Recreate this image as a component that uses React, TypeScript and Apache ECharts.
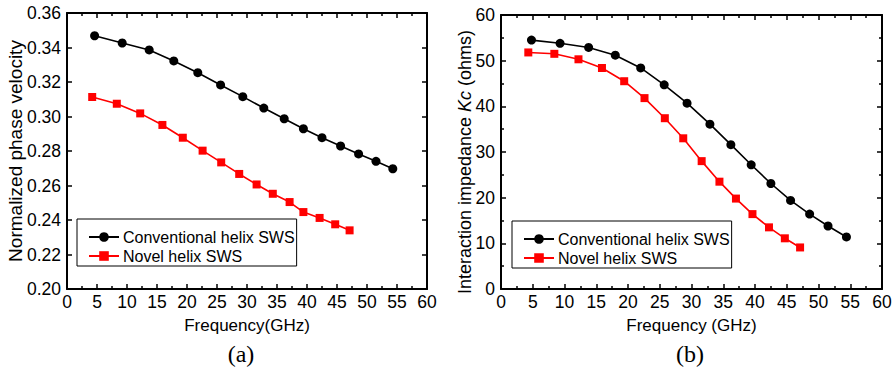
import React, { useEffect, useRef } from "react";
import * as echarts from "echarts";

const SERIES_NAMES = ["Conventional helix SWS", "Novel helix SWS"];

// Panel (a): normalized phase velocity
const freqAConv = [4.6, 9.2, 13.7, 17.8, 21.8, 25.6, 29.3, 32.8, 36.2, 39.4, 42.5, 45.6, 48.6, 51.5, 54.3];
const velAConv = [0.3468, 0.3426, 0.3386, 0.3322, 0.3254, 0.3183, 0.3115, 0.3049, 0.2987, 0.2929, 0.2877, 0.2829, 0.2783, 0.274, 0.2697];
const freqANovel = [4.2, 8.3, 12.2, 15.9, 19.3, 22.6, 25.7, 28.7, 31.6, 34.3, 37.1, 39.4, 42.1, 44.7, 47.1];
const velANovel = [0.3113, 0.3074, 0.3018, 0.2951, 0.2877, 0.2802, 0.2734, 0.2667, 0.2606, 0.2552, 0.2504, 0.2446, 0.2412, 0.2375, 0.234];

// Panel (b): interaction impedance
const freqBConv = [4.8, 9.3, 13.8, 18.0, 22.0, 25.7, 29.3, 32.9, 36.2, 39.4, 42.5, 45.6, 48.6, 51.5, 54.4];
const kcBConv = [54.5, 53.8, 52.9, 51.2, 48.4, 44.7, 40.7, 36.1, 31.6, 27.2, 23.1, 19.4, 16.4, 13.8, 11.4];
const freqBNovel = [4.3, 8.4, 12.2, 15.9, 19.4, 22.6, 25.8, 28.7, 31.6, 34.4, 37.0, 39.6, 42.2, 44.7, 47.1];
const kcBNovel = [51.8, 51.5, 50.3, 48.4, 45.5, 41.8, 37.4, 33.0, 28.0, 23.5, 19.8, 16.4, 13.5, 11.1, 9.1];

const FONT = "'Liberation Sans', Arial, sans-serif";
const SERIF = "'Liberation Serif', 'Times New Roman', serif";

const zip = (xs: number[], ys: number[]) => xs.map((x, i) => [x, ys[i]]);

const axisLine = { show: true, onZero: false, lineStyle: { color: "#000", width: 2 } };
const tick = { show: true, inside: true, length: 5, lineStyle: { color: "#000", width: 1.5 } };
const minor = { show: true, splitNumber: 2, length: 3, lineStyle: { color: "#000", width: 1.5 } };
const labelStyle = { color: "#000", fontFamily: FONT, fontSize: 17.5 };

function xAxes(gridIndex: number, name: string) {
  return [
    {
      type: "value", gridIndex, position: "bottom", min: 0, max: 60, interval: 5,
      axisLine, axisTick: tick, minorTick: minor,
      splitLine: { show: false }, minorSplitLine: { show: false },
      axisLabel: { ...labelStyle, margin: 4 },
      name, nameLocation: "middle", nameGap: 28,
      nameTextStyle: { color: "#000", fontFamily: FONT, fontSize: 17 },
    },
    {
      type: "value", gridIndex, position: "top", min: 0, max: 60, interval: 5,
      axisLine, axisTick: tick, minorTick: minor,
      splitLine: { show: false }, minorSplitLine: { show: false },
      axisLabel: { show: false },
    },
  ];
}

function yAxes(gridIndex: number, min: number, max: number, interval: number, withMinor: boolean, fmt: (v: number) => string) {
  return [
    {
      type: "value", gridIndex, position: "left", min, max, interval,
      axisLine, axisTick: tick, minorTick: withMinor ? minor : { show: false },
      splitLine: { show: false }, minorSplitLine: { show: false },
      axisLabel: { ...labelStyle, margin: 6, formatter: fmt },
    },
    {
      type: "value", gridIndex, position: "right", min, max, interval,
      axisLine, axisTick: tick, minorTick: withMinor ? minor : { show: false },
      splitLine: { show: false }, minorSplitLine: { show: false },
      axisLabel: { show: false },
    },
  ];
}

function lineSeries(id: string, name: string, xi: number, yi: number, data: number[][], color: string, symbol: string, size: number) {
  return {
    id, name, type: "line", xAxisIndex: xi, yAxisIndex: yi, data,
    symbol, symbolSize: size, showSymbol: true,
    lineStyle: { color, width: 1.6 },
    itemStyle: { color, borderWidth: 0 },
    emphasis: { disabled: true },
    z: 3,
  };
}

function legend(left: number, top: number) {
  return {
    left, top, orient: "vertical",
    data: SERIES_NAMES,
    itemWidth: 30, itemHeight: 12, itemGap: 3,
    padding: [10, 2, 2, 11],
    borderColor: "#000", borderWidth: 1, backgroundColor: "#fff",
    textStyle: { color: "#000", fontFamily: FONT, fontSize: 16, padding: [0, 0, 0, -1] },
    selectedMode: false,
  };
}

export default function App() {
  const ref = useRef<HTMLDivElement>(null);
  useEffect(() => {
    if (!ref.current) return;
    const chart = echarts.init(ref.current, undefined, { renderer: "svg" });
    chart.setOption({
      animation: false,
      backgroundColor: "#fff",
      grid: [
        { left: 67, top: 13, width: 360, height: 276 },
        { left: 501, top: 15, width: 381, height: 274 },
      ],
      xAxis: [...xAxes(0, "Frequency(GHz)"), ...xAxes(1, "Frequency (GHz)")],
      yAxis: [
        ...yAxes(0, 0.2, 0.36, 0.02, false, (v: number) => v.toFixed(2)),
        ...yAxes(1, 0, 60, 10, true, (v: number) => String(Math.round(v))),
      ],
      legend: [legend(77, 219), legend(512, 221)],
      series: [
        lineSeries("a-conv", SERIES_NAMES[0], 0, 0, zip(freqAConv, velAConv), "#000", "circle", 9),
        lineSeries("a-novel", SERIES_NAMES[1], 0, 0, zip(freqANovel, velANovel), "#f00", "rect", 8),
        lineSeries("b-conv", SERIES_NAMES[0], 2, 2, zip(freqBConv, kcBConv), "#000", "circle", 9),
        lineSeries("b-novel", SERIES_NAMES[1], 2, 2, zip(freqBNovel, kcBNovel), "#f00", "rect", 8),
      ],
      graphic: [
        {
          type: "text", x: 15, y: 151, rotation: Math.PI / 2,
          style: {
            text: "Normalized phase velocity", fill: "#000",
            font: `19px ${FONT}`, align: "center", verticalAlign: "middle",
          },
        },
        {
          type: "text", x: 465, y: 162, rotation: Math.PI / 2,
          style: {
            text: "{n|Interaction impedance }{i|Kc}{n| (ohms)}",
            align: "center", verticalAlign: "middle",
            rich: {
              n: { fill: "#000", fontFamily: FONT, fontSize: 18 },
              i: { fill: "#000", fontFamily: FONT, fontSize: 18, fontStyle: "italic" },
            },
          },
        },
        {
          type: "text", x: 241, y: 354,
          style: { text: "(a)", fill: "#000", font: `24px ${SERIF}`, align: "center", verticalAlign: "middle" },
        },
        {
          type: "text", x: 690, y: 354,
          style: { text: "(b)", fill: "#000", font: `24px ${SERIF}`, align: "center", verticalAlign: "middle" },
        },
      ],
    });
    return () => chart.dispose();
  }, []);
  return <div ref={ref} style={{ position: "fixed", left: 0, top: 0, width: 896, height: 371 }} />;
}
